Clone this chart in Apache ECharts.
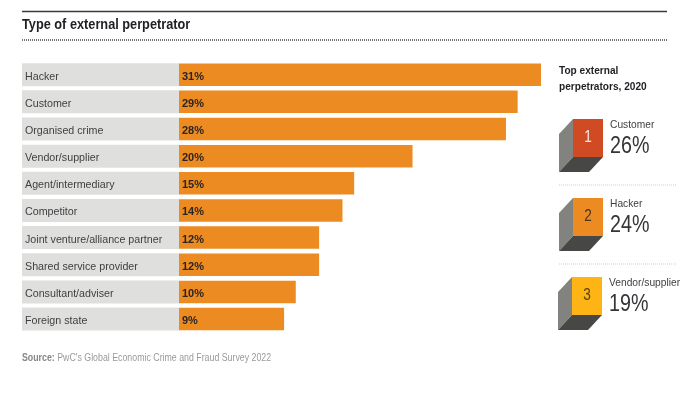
<!DOCTYPE html>
<html>
<head>
<meta charset="utf-8">
<style>
  html, body { margin: 0; padding: 0; background: #fff; }
  #main { width: 695px; height: 395px; }
</style>
<script src="https://cdn.jsdelivr.net/npm/echarts@6/dist/echarts.min.js"></script>
</head>
<body>
<div id="main"></div>
<script>
const categories = ["Hacker", "Customer", "Organised crime", "Vendor/supplier", "Agent/intermediary",
  "Competitor", "Joint venture/alliance partner", "Shared service provider", "Consultant/adviser", "Foreign state"];
const shares = [31, 29, 28, 20, 15, 14, 12, 12, 10, 9];

const topNames = ["Customer", "Hacker", "Vendor/supplier"];
const topShares = [26, 24, 19];
const topColors = ["#d04a23", "#eb8b21", "#fdb414"];
const topNumberColors = ["#fbe9e0", "#4a3520", "#5a4210"];

const FONT = '"Liberation Sans", Arial, sans-serif';
const chart = echarts.init(document.getElementById("main"));

// the source picture has slightly squeezed type, hence the scaleX
function textEl(x, y, text, size, color, weight, squeeze) {
  return {
    type: "text", x: x, y: y, scaleX: squeeze || 1,
    style: { text: text, font: (weight || "normal") + " " + size + "px " + FONT, fill: color, textVerticalAlign: "middle" }
  };
}
function lineEl(x1, x2, y, color, width, dash) {
  return { type: "line", shape: { x1: x1, y1: y, x2: x2, y2: y }, style: { stroke: color, lineWidth: width, lineDash: dash || null } };
}

// one box of the "top perpetrators" panel
function cube(i, x, y) {
  const w = 30, h = 38, dx = 14, dy = 15;
  return [
    { type: "polygon", shape: { points: [[x, y], [x - dx, y + dy], [x - dx, y + h + dy], [x, y + h]] }, style: { fill: "#82827e" } },
    { type: "polygon", shape: { points: [[x, y + h], [x + w, y + h], [x + w - dx, y + h + dy], [x - dx, y + h + dy]] }, style: { fill: "#474846" } },
    { type: "rect", shape: { x: x, y: y, width: w, height: h }, style: { fill: topColors[i] } },
    {
      type: "text", x: x + w / 2, y: y + h / 2, scaleX: 0.85,
      style: { text: String(i + 1), font: "16px " + FONT, fill: topNumberColors[i], textAlign: "center", textVerticalAlign: "middle" }
    },
    textEl(x + 37, y + 6, topNames[i], 11, "#3f3f42", "normal", 0.93),
    textEl(x + 37, y + 27.5, topShares[i] + "%", 24, "#35353a", "normal", 0.82)
  ];
}

const panelTops = [119, 198, 277];
let graphics = [
  lineEl(22, 667, 11.5, "#3a3a3a", 1.5),
  lineEl(22, 667, 40, "#444444", 1.5, [1, 1]),
  textEl(22, 25.5, "Type of external perpetrator", 14, "#1f1f24", "bold", 0.91),
  textEl(559, 71, "Top external", 11, "#1f1f24", "bold", 0.92),
  textEl(559, 87, "perpetrators, 2020", 11, "#1f1f24", "bold", 0.92),
  lineEl(559, 677, 185, "#cfcfcf", 1, [1, 1]),
  lineEl(559, 677, 264, "#cfcfcf", 1, [1, 1]),
  {
    type: "text", x: 22, y: 358, scaleX: 0.88,
    style: {
      text: "{b|Source:} PwC's Global Economic Crime and Fraud Survey 2022",
      font: "10px " + FONT, fill: "#9a9a9a", textVerticalAlign: "middle",
      rich: { b: { font: "bold 10px " + FONT, fill: "#85858a" } }
    }
  }
];
panelTops.forEach(function (top, i) {
  graphics = graphics.concat(cube(i, i === 2 ? 572 : 573, top));
});

chart.setOption({
  animation: false,
  backgroundColor: "#fff",
  textStyle: { fontFamily: FONT },
  grid: { left: 179, top: 61.1, width: 362, height: 271.5, containLabel: false },
  xAxis: { type: "value", min: 0, max: 31, show: false },
  yAxis: {
    type: "category",
    inverse: true,
    data: categories,
    axisLine: { show: false },
    axisTick: { show: false },
    axisLabel: {
      margin: 157,
      align: "left",
      formatter: function (name) { return "{row|" + name + "}"; },
      rich: {
        row: {
          width: 154,
          height: 15,
          lineHeight: 15,
          padding: [6, 0, 2, 3],
          backgroundColor: "#dfdfde",
          color: "#3f3f42",
          fontSize: 10.7,
          fontFamily: FONT
        }
      }
    }
  },
  series: [{
    type: "bar",
    data: shares,
    barWidth: 22.5,
    itemStyle: { color: "#eb8b21" },
    label: {
      show: true,
      position: "insideLeft",
      distance: 3,
      offset: [0, 2],
      formatter: "{c}%",
      color: "#2c2420",
      fontWeight: "bold",
      fontSize: 11,
      fontFamily: FONT
    }
  }],
  graphic: { elements: graphics }
});

window.addEventListener("resize", function () { chart.resize(); });
</script>
</body>
</html>
